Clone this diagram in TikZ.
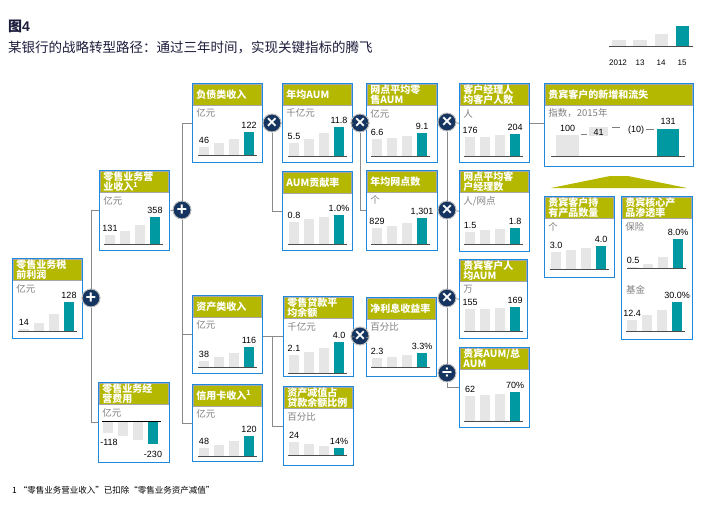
\documentclass[tikz,border=0pt]{standalone}
\usepackage{fontspec}
\setmainfont{Liberation Sans}
\newfontfamily\cjk{Noto Sans CJK SC}
\usetikzlibrary{positioning}

\definecolor{kpiolive}{HTML}{B4B800}
\definecolor{kpiteal}{HTML}{0098A1}
\definecolor{kpigrey}{HTML}{E6E6E6}
\definecolor{kpiblue}{HTML}{1E88DC}
\definecolor{kpinavy}{HTML}{15345F}
\definecolor{linkgrey}{HTML}{8A8A8A}
\definecolor{titlenavy}{HTML}{1C1C3C}

\begin{document}
\begin{tikzpicture}[
        x=1pt, y=-1pt,
        kpi box/.style={rectangle, draw=kpiblue, line width=1.4pt, fill=white, inner sep=0pt, anchor=north west},
        kpi head/.style={rectangle, draw=gray!70, fill=kpiolive, text=white, font=\cjk\bfseries\fontsize{10}{10.6}\selectfont, inner xsep=3.5pt, inner ysep=0.6pt, minimum height=21pt, align=left, anchor=north west},
        unit/.style={font=\cjk\fontsize{9.5}{9.5}\selectfont, text=gray, inner sep=0pt, anchor=north west},
        val/.style={font=\fontsize{9}{9}\selectfont, inner sep=0pt, anchor=base},
        op/.style={circle, fill=kpinavy, draw=gray!50, line width=1pt, text=white, minimum size=18pt, inner sep=0pt, font=\bfseries\fontsize{18}{18}\selectfont},
        link/.style={draw=linkgrey, line width=0.8pt},
        bar/.style={fill=kpigrey},
        hot bar/.style={fill=kpiteal},
        axis/.style={draw=black!70, line width=0.8pt}
    ]
        \useasboundingbox (0,0) rectangle (727,506);

        % Title
        \node[anchor=base west, inner sep=0pt, text=titlenavy, font=\bfseries\fontsize{14}{14}\selectfont] (fig) at (8,31.5) {{\cjk 图}4};
        \node[anchor=base west, inner sep=0pt, text=titlenavy, font=\cjk\fontsize{13.5}{13.5}\selectfont] (subtitle) at (8,52) {某银行的战略转型路径：通过三年时间，实现关键指标的腾飞};

        % Legend
        \fill[bar] (612,46) rectangle ++(14,-6);
        \fill[bar] (633,46) rectangle ++(14,-6);
        \fill[bar] (655,46) rectangle ++(13,-12);
        \fill[hot bar] (676,46) rectangle ++(13,-20);
        \draw[axis] (609,46) -- (693,46);
        \foreach \yx/\yr in {618/2012, 640/13, 661/14, 682/15}
        {
            \node[val, font=\fontsize{8}{8}\selectfont] (year-\yr) at (\yx,65) {\yr};
        }

        % Boxes
        \foreach \name/\bx/\by/\w/\h/\title/\unit in {
            profit/12/258/70/80/{零售业务税\\前利润}/亿元,
            revenue/99/170/70/80/{零售业务营\\业收入\textsuperscript{1}}/亿元,
            cost/98/382/71/80/{零售业务经\\营费用}/亿元,
            liab/192/83/70/79/{负债类收入}/亿元,
            aum/282/83/70/79/{年均AUM}/千亿元,
            aumrate/282/171/70/79/{AUM贡献率}/{},
            asset/192/295/70/78/{资产类收入}/亿元,
            card/192/384/70/77/{信用卡收入\textsuperscript{1}}/亿元,
            loan/283/296/70/80/{零售贷款平\\均余额}/千亿元,
            impair/283/386/70/79/{资产减值占\\贷款余额比例}/百分比,
            branchaum/366/83/71/79/{网点平均零\\售AUM}/亿元,
            branches/366/170/71/80/{年均网点数}/个,
            nim/366/297/70/79/{净利息收益率}/百分比,
            custper/459/83/70/79/{客户经理人\\均客户人数}/人,
            rmper/459/170/70/81/{网点平均客\\户经理数}/{人/网点},
            vipaum/459/259/68/79/{贵宾客户人\\均AUM}/万,
            vipshare/459/347/70/80/{贵宾AUM/总\\AUM}/{},
            vipflow/544/83/149/83/{贵宾客户的新增和流失}/{指数，2015年},
            products/544/196/70/81/{贵宾客户持\\有产品数量}/个,
            penet/621/196/71/143/{贵宾核心产\\品渗透率}/保险}
        {
            \node[kpi box, minimum width=\w pt, minimum height=\h pt] (\name) at (\bx,\by) {};
            \pgfmathsetlengthmacro\tw{\w pt-8.4pt}
            \node[kpi head, text width=\tw] (\name-h) at ([xshift=0.7pt,yshift=-0.7pt]\name.north west) {\title};
            \node[unit] (\name-u) at ([xshift=3.5pt,yshift=-3.5pt]\name-h.south west) {\unit};
        }
        \node[unit] (penet-u2) at (626,285) {基金};

        % Bar charts
        \foreach \bx/\by/\ha/\hb/\hc/\hd/\la/\lb [count=\i] in {
            19/331/2/8/17/29/14/128,
            105/244/9/13/19/27/131/358,
            199/155/8/12/16/23/46/122,
            289/156/13/17/23/29/5.5/11.8,
            289/244/22/25/27/29/0.8/1.0\%,
            199/367/6/10/14/20/38/116,
            199/456/8/11/15/20/48/120,
            289/373/18/21/25/31/2.1/4.0,
            289/455/13/11/9/7/24/14\%,
            372/156/17/18/20/23/6.6/9.1,
            372/244/16/18/21/26/829/{1,301},
            372/367/9/10/12/14/2.3/3.3\%,
            465/156/19/19/21/22/176/204,
            465/244/12/14/15/16/1.5/1.8,
            465/331/22/22/23/24/155/169,
            465/421/25/26/27/29/62/70\%,
            551/269/17/19/21/23/3.0/4.0,
            628/268/1/4/11/29/0.5/8.0\%,
            627/331/11/16/21/29/12.4/30.0\%}
        {
            \fill[bar] (\bx,\by) rectangle ++(10,-\ha);
            \fill[bar] (\bx+15,\by) rectangle ++(10,-\hb);
            \fill[bar] (\bx+30,\by) rectangle ++(10,-\hc);
            \fill[hot bar] (\bx+45,\by) rectangle ++(10,-\hd);
            \draw[axis] (\bx-1,\by) -- (\bx+58,\by);
            \node[val] (lo-\i) at (\bx+5,\by-\ha-4) {\la};
            \node[val] (hi-\i) at (\bx+50,\by-\hd-4) {\lb};
        }

        % Cost chart (negative)
        \fill[bar] (103,421) rectangle ++(10,12);
        \fill[bar] (118,421) rectangle ++(10,15);
        \fill[bar] (133,421) rectangle ++(10,19);
        \fill[hot bar] (148,421) rectangle ++(10,23);
        \draw[axis, draw=black] (102,421) -- (161,421);
        \node[val] (cost-lo) at (109,445) {-118};
        \node[val] (cost-hi) at (153,457) {-230};

        % Waterfall
        \fill[bar] (556,156) rectangle (579,135);
        \fill[bar] (589,136) rectangle (608,127);
        \fill[hot bar] (657,156) rectangle (679,129);
        \draw[axis] (551,156) -- (685,156);
        \node[val] (flow-a) at (567.5,131) {100};
        \node[val] (flow-b) at (598.5,135) {41};
        \node[val] (flow-c) at (636,132.5) {(10)};
        \node[val] (flow-d) at (668,124.5) {131};
        \draw[gray, line width=0.8pt] (581,134) -- (587,134);
        \draw[gray, line width=0.8pt] (612,127) -- (620,127);
        \draw[gray, line width=0.8pt] (646,129) -- (654,129);

        % Arrow head above product boxes
        \fill[kpiolive] (551,188) -- (610,176) -- (628,176) -- (687,188) -- cycle;

        % Operators
        \node[op] (plus1) at (91,298) {+};
        \node[op] (plus2) at (182,210) {+};
        \node[op] (times1) at (272,123) {×};
        \node[op] (times2) at (360,123) {×};
        \node[op] (times3) at (360,336) {×};
        \node[op] (times4) at (447,122) {×};
        \node[op] (times5) at (447,210) {×};
        \node[op] (times6) at (447,298) {×};
        \node[op] (div1) at (447,373) {÷};

        % Connections
        \draw[link] (profit.east) -- (plus1);
        \draw[link] (revenue.west) -| (plus1) |- (cost.west);

        \draw[link] (revenue.east) -- (plus2);
        \draw[link] (liab.west) -| (plus2) |- (card.west);
        \draw[link] (plus2) |- (asset.west);

        \draw[link] (liab.east) -- (times1) -- (aum.west);
        \draw[link] (times1) |- (aumrate.west);

        \draw[link] (aum.east) -- (times2) -- (branchaum.west);
        \draw[link] (times2) |- (branches.west);

        \coordinate (fork) at (272,336);
        \draw[link] (asset.east |- fork) -- (loan.west |- fork);
        \draw[link] (fork) |- (impair.west);

        \draw[link] (loan.east) -- (times3) -- (nim.west);

        \draw[link] (branchaum.east) -- (times4) -- (custper.west);
        \draw[link] (times4) -- (times5) -- (times6) -- (div1) |- (vipshare.west);
        \draw[link] (branches.east) -- (times5) -- (rmper.west);
        \draw[link] (times6) -- (vipaum.west);

        \draw[link] (custper.east) -- (custper.east -| vipflow.west);

        % Footnote
        \node[anchor=base west, inner sep=0pt, font=\cjk\fontsize{8.5}{8.5}\selectfont] (note) at (12,493) {1 “零售业务营业收入”已扣除“零售业务资产减值”};

    \end{tikzpicture}
\end{document}
